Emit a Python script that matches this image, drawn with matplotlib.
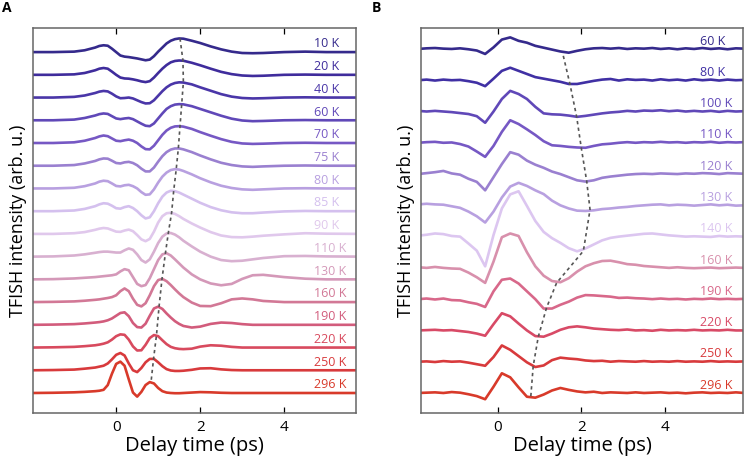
import numpy as np
import matplotlib
matplotlib.use('Agg')
import matplotlib.pyplot as plt

plt.rcParams['font.family'] = ['Open Sans', 'DejaVu Sans']

# ---- panel A: smooth traces, delay grid (ps)
t_a = [-2.0, -1.5, -1.0, -0.75, -0.5, -0.4, -0.3, -0.2, -0.1, 0.0, 0.1, 0.2, 0.3, 0.4, 0.5,
       0.6, 0.7, 0.8, 0.9, 1.0, 1.1, 1.2, 1.3, 1.4, 1.5, 1.6, 1.8, 2.0, 2.25, 2.5, 2.75,
       3.0, 3.25, 3.5, 4.0, 4.5, 5.0, 5.8]
labels_a = ['10 K', '20 K', '40 K', '60 K', '70 K', '75 K', '80 K', '85 K', '90 K', '110 K',
            '130 K', '160 K', '190 K', '220 K', '250 K', '296 K']
traces_a = [
    [0, 0, 0.02, 0.08, 0.2, 0.27, 0.3, 0.28, 0.15, 0.0, -0.15, -0.2, -0.22, -0.25, -0.28, -0.32, -0.36, -0.33, -0.18, 0.02, 0.2, 0.38, 0.5, 0.57, 0.6, 0.59, 0.5, 0.4, 0.25, 0.12, 0.02, -0.04, -0.05, -0.04, 0.0, 0.02, 0.0, 0.0],
    [0, 0, 0.02, 0.08, 0.2, 0.27, 0.3, 0.27, 0.14, 0.0, -0.12, -0.16, -0.17, -0.2, -0.24, -0.29, -0.32, -0.28, -0.12, 0.08, 0.27, 0.43, 0.55, 0.61, 0.63, 0.62, 0.53, 0.42, 0.27, 0.13, 0.03, -0.03, -0.05, -0.04, 0.0, 0.01, 0.0, 0.0],
    [0, 0, 0.03, 0.09, 0.2, 0.26, 0.29, 0.27, 0.17, 0.05, -0.03, -0.02, 0.0, -0.04, -0.12, -0.2, -0.26, -0.25, -0.12, 0.08, 0.28, 0.45, 0.57, 0.64, 0.67, 0.66, 0.58, 0.45, 0.3, 0.15, 0.04, -0.02, -0.04, -0.03, 0.0, 0.01, 0.0, 0.0],
    [0, 0, 0.03, 0.1, 0.21, 0.27, 0.3, 0.28, 0.18, 0.08, 0.05, 0.08, 0.1, 0.05, -0.05, -0.15, -0.24, -0.26, -0.14, 0.08, 0.3, 0.5, 0.62, 0.69, 0.71, 0.7, 0.62, 0.5, 0.35, 0.2, 0.07, -0.01, -0.04, -0.03, 0.0, 0.01, 0.0, 0.0],
    [0, 0, 0.03, 0.1, 0.22, 0.29, 0.33, 0.3, 0.2, 0.1, 0.08, 0.12, 0.15, 0.1, 0.0, -0.15, -0.27, -0.28, -0.12, 0.12, 0.36, 0.55, 0.67, 0.73, 0.74, 0.72, 0.62, 0.48, 0.32, 0.17, 0.05, -0.02, -0.04, -0.03, 0.0, 0.01, 0.0, 0.0],
    [0, 0, 0.03, 0.1, 0.21, 0.28, 0.32, 0.31, 0.22, 0.12, 0.1, 0.15, 0.17, 0.12, 0.02, -0.13, -0.25, -0.25, -0.08, 0.18, 0.42, 0.6, 0.71, 0.76, 0.76, 0.72, 0.6, 0.45, 0.28, 0.13, 0.03, -0.03, -0.05, -0.03, 0.0, 0.01, 0.0, 0.0],
    [0, 0, 0.03, 0.1, 0.22, 0.3, 0.34, 0.32, 0.22, 0.11, 0.09, 0.14, 0.16, 0.1, 0.0, -0.16, -0.28, -0.26, -0.04, 0.26, 0.52, 0.7, 0.81, 0.85, 0.83, 0.77, 0.62, 0.45, 0.27, 0.12, 0.02, -0.04, -0.06, -0.04, 0.0, 0.01, 0.0, 0.0],
    [0, 0, 0.03, 0.1, 0.22, 0.3, 0.35, 0.33, 0.24, 0.13, 0.11, 0.18, 0.22, 0.14, 0.0, -0.18, -0.32, -0.27, 0.0, 0.35, 0.64, 0.82, 0.9, 0.88, 0.82, 0.73, 0.55, 0.37, 0.18, 0.04, -0.05, -0.09, -0.09, -0.06, -0.01, 0.01, 0.0, 0.0],
    [0, 0, 0.03, 0.08, 0.18, 0.23, 0.26, 0.24, 0.17, 0.1, 0.09, 0.15, 0.19, 0.12, -0.05, -0.24, -0.32, -0.22, 0.1, 0.5, 0.78, 0.91, 0.93, 0.88, 0.78, 0.66, 0.46, 0.28, 0.08, -0.07, -0.14, -0.15, -0.12, -0.08, -0.02, 0.03, 0.01, 0.0],
    [0, 0.01, 0.05, 0.1, 0.17, 0.2, 0.22, 0.22, 0.2, 0.18, 0.18, 0.28, 0.36, 0.3, 0.1, -0.15, -0.26, -0.12, 0.22, 0.6, 0.88, 1.02, 1.04, 0.97, 0.85, 0.7, 0.45, 0.22, 0.0, -0.15, -0.2, -0.18, -0.12, -0.06, 0.02, 0.03, 0.01, 0.0],
    [0, 0.01, 0.04, 0.07, 0.1, 0.12, 0.14, 0.16, 0.18, 0.22, 0.35, 0.45, 0.4, 0.1, -0.2, -0.3, -0.25, 0.05, 0.45, 0.85, 1.1, 1.15, 1.05, 0.88, 0.7, 0.52, 0.22, 0.0, -0.18, -0.26, -0.2, 0.02, 0.18, 0.2, 0.1, 0.03, 0.0, 0.0],
    [0, 0.01, 0.03, 0.06, 0.1, 0.12, 0.15, 0.18, 0.22, 0.3, 0.48, 0.6, 0.48, 0.15, -0.12, -0.19, -0.05, 0.3, 0.7, 0.97, 1.02, 0.92, 0.75, 0.56, 0.38, 0.22, -0.02, -0.17, -0.18, -0.05, 0.12, 0.16, 0.12, 0.05, 0.0, 0.0, 0.0, 0.0],
    [0, 0.01, 0.03, 0.06, 0.1, 0.12, 0.15, 0.2, 0.28, 0.4, 0.52, 0.55, 0.38, 0.08, -0.1, -0.12, 0.05, 0.4, 0.72, 0.8, 0.7, 0.5, 0.32, 0.16, 0.04, -0.05, -0.12, -0.08, 0.04, 0.1, 0.08, 0.03, 0.0, 0.0, 0.0, 0.0, 0.0, 0.0],
    [0, 0.01, 0.03, 0.06, 0.1, 0.13, 0.17, 0.23, 0.35, 0.5, 0.58, 0.56, 0.35, 0.05, -0.13, -0.12, 0.12, 0.42, 0.55, 0.5, 0.32, 0.15, 0.03, -0.03, -0.06, -0.07, -0.05, 0.04, 0.1, 0.08, 0.03, 0.0, 0.0, 0.0, 0.0, 0.0, 0.0, 0.0],
    [0, 0.01, 0.03, 0.07, 0.12, 0.16, 0.2, 0.3, 0.48, 0.68, 0.76, 0.65, 0.3, 0.0, -0.08, 0.1, 0.35, 0.5, 0.5, 0.35, 0.18, 0.05, -0.01, -0.03, -0.03, -0.02, 0.02, 0.08, 0.09, 0.04, 0.01, 0.0, 0.0, 0.0, 0.0, 0.0, 0.0, 0.0],
    [0, 0.01, 0.03, 0.05, 0.08, 0.1, 0.14, 0.35, 0.85, 1.28, 1.38, 1.2, 0.6, 0.02, -0.16, 0.05, 0.35, 0.48, 0.42, 0.22, 0.08, 0.02, 0.0, -0.01, -0.01, 0.0, 0.02, 0.04, 0.03, 0.01, 0.0, 0.0, 0.0, 0.0, 0.0, 0.0, 0.0, 0.0],
]
# dashed guide through the main peaks (delay, height above baseline)
dash_t_a = [1.52, 1.59, 1.60, 1.56, 1.52, 1.48, 1.43, 1.37, 1.32, 1.24, 1.17, 1.09, 1.02, 0.96, 0.89, 0.83]
dash_v_a = [0.6, 0.63, 0.67, 0.71, 0.74, 0.76, 0.85, 0.9, 0.93, 1.02, 1.12, 1.0, 0.78, 0.55, 0.5, 0.48]
colors_a = ['#352a8c', '#3f2c9c', '#4a36a8', '#6048b8', '#7658c4', '#9a80d0', '#b8a0e0', '#d4c0ee',
            '#e0c8ec', '#d8b0d0', '#d498b8', '#d27896', '#d25c7c', '#d84a5e', '#d83a3c', '#d83a2a']

# ---- panel B: noisier traces
t_b = [-1.9, -1.7, -1.5, -1.3, -1.1, -0.9, -0.7, -0.5, -0.3, -0.1, 0.1, 0.3, 0.5, 0.7, 0.9, 1.1,
       1.3, 1.5, 1.7, 1.9, 2.1, 2.3, 2.5, 2.7, 2.9, 3.1, 3.3, 3.5, 3.7, 3.9, 4.1, 4.3, 4.5, 4.7,
       4.9, 5.1, 5.3, 5.5, 5.7, 5.9]
labels_b = ['60 K', '80 K', '100 K', '110 K', '120 K', '130 K', '140 K', '160 K', '190 K', '220 K',
            '250 K', '296 K']
traces_b = [
    [0.0, 0.02, 0.03, 0.01, 0.0, 0.02, -0.01, -0.05, -0.16, 0.05, 0.3, 0.37, 0.26, 0.2, 0.1, 0.04, -0.02, -0.08, -0.12, -0.06, -0.01, 0.02, 0.03, 0.01, 0.03, 0.0, 0.02, 0.01, 0.03, 0.0, 0.02, -0.01, 0.02, 0.0, 0.03, 0.0, 0.02, -0.01, 0.02, 0.01],
    [0.0, 0.02, -0.01, 0.02, 0.0, 0.01, -0.03, -0.08, -0.19, 0.05, 0.3, 0.4, 0.3, 0.2, 0.1, 0.05, 0.0, -0.05, -0.12, -0.12, -0.07, -0.02, 0.02, 0.04, -0.01, 0.03, 0.01, 0.02, -0.01, 0.03, 0.0, 0.02, -0.01, 0.03, 0.0, 0.02, -0.01, 0.02, 0.0, 0.01],
    [0.02, 0.0, 0.02, 0.0, -0.02, -0.05, -0.08, -0.15, -0.36, 0.0, 0.4, 0.66, 0.56, 0.4, 0.15, -0.06, -0.09, -0.1, -0.13, -0.17, -0.14, -0.1, -0.06, -0.03, -0.01, 0.02, 0.0, 0.03, 0.02, 0.04, 0.01, 0.03, 0.0, 0.02, 0.0, 0.02, -0.01, 0.02, 0.0, 0.01],
    [0.0, 0.02, 0.03, 0.0, 0.01, -0.04, -0.12, -0.28, -0.45, -0.1, 0.35, 0.72, 0.6, 0.43, 0.25, 0.05, -0.08, -0.1, -0.13, -0.15, -0.16, -0.1, -0.05, -0.03, 0.0, 0.02, 0.0, 0.02, 0.01, 0.03, 0.01, 0.02, 0.0, 0.02, 0.01, 0.03, 0.0, 0.02, 0.01, 0.02],
    [0.0, 0.03, 0.06, 0.1, 0.02, -0.02, -0.15, -0.25, -0.52, -0.1, 0.32, 0.7, 0.62, 0.43, 0.3, 0.2, 0.08, 0.0, -0.1, -0.2, -0.24, -0.2, -0.12, -0.08, -0.05, -0.02, 0.0, 0.01, 0.0, 0.02, 0.01, 0.0, 0.02, 0.01, 0.03, 0.02, 0.0, 0.03, 0.02, 0.01],
    [0.03, 0.05, 0.03, 0.02, -0.03, -0.08, -0.2, -0.35, -0.55, -0.2, 0.25, 0.6, 0.72, 0.62, 0.48, 0.36, 0.15, 0.0, -0.1, -0.17, -0.18, -0.16, -0.12, -0.1, -0.07, -0.05, -0.02, 0.0, 0.02, 0.03, 0.0, 0.02, 0.01, -0.01, 0.01, 0.03, 0.0, 0.02, -0.01, 0.0],
    [0.03, 0.06, 0.1, 0.08, 0.02, 0.0, -0.22, -0.45, -0.95, 0.05, 0.9, 1.35, 1.45, 0.98, 0.5, 0.15, -0.05, -0.2, -0.37, -0.47, -0.38, -0.25, -0.12, -0.04, 0.0, 0.03, 0.06, 0.09, 0.1, 0.07, 0.04, 0.02, 0.0, 0.01, 0.0, -0.01, 0.02, 0.0, 0.01, 0.0],
    [0.02, 0.0, 0.03, 0.0, -0.02, -0.03, -0.15, -0.3, -0.48, 0.2, 0.98, 1.1, 1.02, 0.5, 0.05, -0.25, -0.42, -0.46, -0.33, -0.12, 0.05, 0.15, 0.22, 0.23, 0.18, 0.12, 0.1, 0.06, 0.04, 0.02, 0.0, 0.02, 0.0, -0.01, 0.0, 0.01, -0.01, 0.0, 0.01, 0.0],
    [0.0, 0.02, -0.01, 0.02, -0.03, -0.04, -0.1, -0.15, -0.25, 0.25, 0.62, 0.66, 0.5, 0.25, 0.0, -0.3, -0.3, -0.18, -0.08, 0.05, 0.13, 0.12, 0.1, 0.08, 0.04, 0.05, 0.03, 0.02, 0.0, 0.02, 0.0, 0.01, -0.01, 0.01, 0.0, 0.02, 0.0, 0.01, 0.0, 0.01],
    [0.0, 0.01, 0.02, 0.0, 0.01, -0.02, -0.05, -0.1, -0.17, 0.2, 0.55, 0.45, 0.22, 0.0, -0.18, -0.2, -0.1, 0.02, 0.1, 0.13, 0.1, 0.06, 0.04, 0.02, 0.01, 0.03, 0.0, 0.01, -0.01, 0.02, 0.0, 0.01, 0.0, 0.02, 0.0, 0.01, 0.0, 0.02, 0.0, 0.0],
    [0.0, 0.01, -0.01, 0.02, 0.0, 0.01, -0.03, -0.08, -0.13, 0.15, 0.52, 0.38, 0.18, -0.02, -0.17, -0.12, 0.05, 0.13, 0.1, 0.08, 0.04, 0.02, 0.03, 0.0, 0.02, 0.01, 0.0, 0.02, 0.0, 0.01, 0.0, 0.02, 0.0, 0.01, 0.0, 0.02, 0.0, 0.01, 0.0, 0.01],
    [0.0, 0.01, 0.02, 0.0, 0.03, 0.01, -0.04, -0.1, -0.2, 0.2, 0.63, 0.5, 0.18, -0.12, -0.15, -0.05, 0.08, 0.16, 0.1, 0.05, 0.02, 0.04, 0.0, 0.02, 0.01, 0.0, 0.02, 0.0, 0.01, 0.02, 0.0, 0.01, -0.01, 0.01, 0.02, 0.0, 0.01, 0.0, 0.02, 0.0],
]
# dashed guide through the post-peak dips (delay, height relative to baseline)
dash_t_b = [1.57, 1.73, 1.89, 2.0, 2.13, 2.21, 2.05, 1.41, 1.17, 0.97, 0.85, 0.79]
dash_v_b = [-0.22, -0.13, -0.17, -0.16, -0.23, -0.14, -0.46, -0.48, -0.27, -0.21, -0.14, -0.15]
colors_b = ['#352a8c', '#4030a4', '#6048b8', '#7658c4', '#9a80d0', '#b8a0e0', '#dcc6f0', '#d890ac',
            '#d8688a', '#d84a66', '#d83a3c', '#d83a2a']

fig = plt.figure(figsize=(7.45, 4.61), dpi=100)
axA = fig.add_axes([33/745, 48/461, 323/745, 385/461])
axB = fig.add_axes([421/745, 48/461, 322/745, 385/461])


def draw(ax, t, traces, labels, colors, dt, dv, xlim, ylim, lab_x, lab_dy):
    n = len(traces)
    for i, tr in enumerate(traces):
        off = n - 1 - i
        ax.plot(t, np.array(tr) + off, color=colors[i], lw=1.9, solid_joinstyle='round')
        ax.text(lab_x, off + lab_dy, labels[i], color=colors[i], fontsize=9, va='center', ha='left')
    offs = np.arange(n - 1, -1, -1)
    ax.plot(dt, np.array(dv) + offs, color='#555555', lw=1.2, ls=(0, (2, 2)))
    ax.set_xlim(*xlim)
    ax.set_ylim(*ylim)
    ax.set_xticks([0, 2, 4])
    ax.set_yticks([])
    ax.tick_params(axis='x', direction='in', top=True, length=4, width=0.9, labelsize=11, pad=5)
    for s in ax.spines.values():
        s.set_color('#666666')
        s.set_linewidth(1.1)
    ax.set_xlabel('Delay time (ps)', fontsize=14.5, labelpad=1)
    ax.set_ylabel('TFISH intensity (arb. u.)', fontsize=13, labelpad=4)


draw(axA, t_a, traces_a, labels_a, colors_a, dash_t_a, dash_v_a, (-1.98, 5.71), (-0.88, 16.06), 4.71, 0.36)
draw(axB, t_b, traces_b, labels_b, colors_b, dash_t_b, dash_v_b, (-1.835, 5.87), (-0.64, 11.67), 4.84, 0.25)

fig.text(2/745, 1 - 8/461, 'A', fontsize=10, fontweight='bold', va='center', ha='left')
fig.text(372/745, 1 - 8/461, 'B', fontsize=10, fontweight='bold', va='center', ha='left')

fig.savefig('out.png', dpi=100)
